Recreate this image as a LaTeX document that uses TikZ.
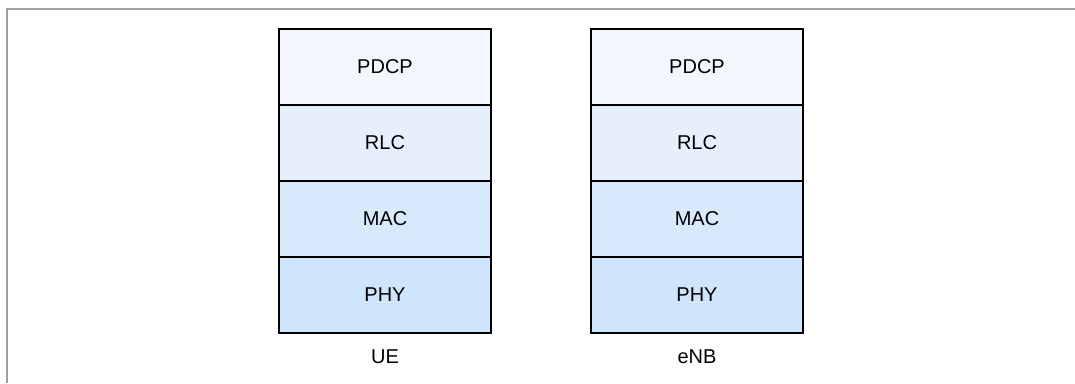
\documentclass[tikz,border=0pt]{standalone}
\usepackage{fontspec}
\setmainfont{Liberation Sans}
\definecolor{framegray}{RGB}{160,160,160}
\definecolor{pdcpfill}{RGB}{243,247,253}
\definecolor{rlcfill}{RGB}{230,240,252}
\definecolor{macfill}{RGB}{217,233,252}
\definecolor{phyfill}{RGB}{207,229,253}
\tikzset{every picture/.style={line width=0.75pt}}
\tikzset{
  layer/.style={draw=black, line width=1.5pt, rectangle, minimum width=159pt, minimum height=57pt, inner sep=0pt, outer sep=0pt, font=\fontsize{15}{18}\selectfont},
  stacklabel/.style={font=\fontsize{15}{18}\selectfont, inner sep=0pt}
}
\begin{document}
\begin{tikzpicture}[x=0.75pt,y=0.75pt,yscale=-1,xscale=1]
\useasboundingbox (0,0) rectangle (1075,383);

%Frame
\draw [color=framegray, line width=1.5pt] (7,383) -- (7,9) -- (1075,9) ;

%UE stack
\node [layer, fill=pdcpfill] (uepdcp) at (385,67) {PDCP};
\node [layer, fill=rlcfill] (uerlc) at (385,143) {RLC};
\node [layer, fill=macfill] (uemac) at (385,219) {MAC};
\node [layer, fill=phyfill] (uephy) at (385,295) {PHY};
\node [stacklabel] (ue) at (385,357) {UE};

%eNB stack
\node [layer, fill=pdcpfill] (enbpdcp) at (697,67) {PDCP};
\node [layer, fill=rlcfill] (enbrlc) at (697,143) {RLC};
\node [layer, fill=macfill] (enbmac) at (697,219) {MAC};
\node [layer, fill=phyfill] (enbphy) at (697,295) {PHY};
\node [stacklabel] (enb) at (697,357) {eNB};
\end{tikzpicture}
\end{document}
